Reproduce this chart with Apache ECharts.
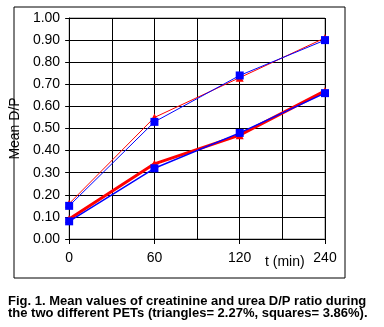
<!DOCTYPE html>
<html>
<head>
<meta charset="utf-8">
<script src="https://cdn.jsdelivr.net/npm/echarts@6/dist/echarts.min.js"></script>
<style>
  html, body { margin: 0; padding: 0; background: #fff; }
  #chart { width: 384px; height: 327px; }
</style>
</head>
<body>
<div id="chart"></div>
<script>
// Sampling times (min), drawn evenly spaced
const times = ['0', '60', '120', '240'];
// Upper pair of curves
const upperTriangles = [0.16, 0.55, 0.73, 0.91];
const upperSquares   = [0.15, 0.53, 0.74, 0.90];
// Lower pair of curves
const lowerTriangles = [0.09, 0.34, 0.47, 0.67];
const lowerSquares   = [0.08, 0.32, 0.48, 0.66];
const yTicks = [0, 0.1, 0.2, 0.3, 0.4, 0.5, 0.6, 0.7, 0.8, 0.9, 1.0];

const pts = arr => arr.map((v, i) => [i, v]);
const FONT = '"Liberation Sans", Arial, sans-serif';

function line(name, data, color, width, symbol, size) {
  return {
    name, type: 'line', data: pts(data),
    symbol, symbolSize: size, showSymbol: true,
    lineStyle: { color, width },
    itemStyle: { color },
    animation: false
  };
}

const chart = echarts.init(document.getElementById('chart'), null, { renderer: 'canvas' });
chart.setOption({
  animation: false,
  grid: { left: 69, top: 18, right: 59, bottom: 88, show: true, borderColor: '#808080', borderWidth: 1, backgroundColor: 'transparent' },
  xAxis: {
    type: 'value', min: 0, max: times.length - 1, interval: 1,
    axisLine: { show: true, onZero: false, lineStyle: { color: '#000', width: 1 } },
    axisTick: { show: true, length: 5, lineStyle: { color: '#000', width: 1 } },
    axisLabel: { color: '#000', fontFamily: FONT, fontSize: 14, margin: 12,
      formatter: v => times[Math.round(v)] ?? '' },
    splitLine: { show: true, lineStyle: { color: '#000', width: 1 } },
    minorTick: { show: false, splitNumber: 2 },
    minorSplitLine: { show: true, lineStyle: { color: '#000', width: 1 } }
  },
  yAxis: {
    type: 'value', min: 0, max: 1, interval: 0.1,
    name: 'Mean D/P', nameLocation: 'middle', nameGap: 41,
    nameTextStyle: { color: '#000', fontFamily: FONT, fontSize: 14 },
    axisLine: { show: true, lineStyle: { color: '#000', width: 1 } },
    axisTick: { show: true, length: 4, lineStyle: { color: '#000', width: 1 } },
    axisLabel: { color: '#000', fontFamily: FONT, fontSize: 14, margin: 9,
      formatter: v => { const t = yTicks.find(k => Math.abs(k - v) < 1e-6); return t === undefined ? '' : t.toFixed(2); } },
    splitLine: { show: true, lineStyle: { color: '#000', width: 1 } }
  },
  series: [
    line('upper triangles', upperTriangles, '#ff0000', 1, 'triangle', 8),
    line('lower triangles', lowerTriangles, '#ff0000', 3, 'triangle', 8),
    line('upper squares', upperSquares, '#0000ff', 1, 'rect', 8),
    line('lower squares', lowerSquares, '#0000ff', 1.5, 'rect', 8)
  ],
  graphic: [
    { type: 'rect', left: 11.5, top: 4.5, shape: { width: 331, height: 271 }, silent: true, z: -1,
      style: { fill: 'none', stroke: '#000', lineWidth: 1 } },
    { type: 'text', left: 265, top: 255, style: { text: 't (min)', font: '14px ' + FONT, fill: '#000' } },
    { type: 'text', left: 8, top: 295,
      style: { text: 'Fig. 1. Mean values of creatinine and urea D/P ratio during\nthe two different PETs (triangles= 2.27%, squares= 3.86%).',
        font: 'bold 13px ' + FONT, fill: '#000', lineHeight: 12 } }
  ]
});
</script>
</body>
</html>
